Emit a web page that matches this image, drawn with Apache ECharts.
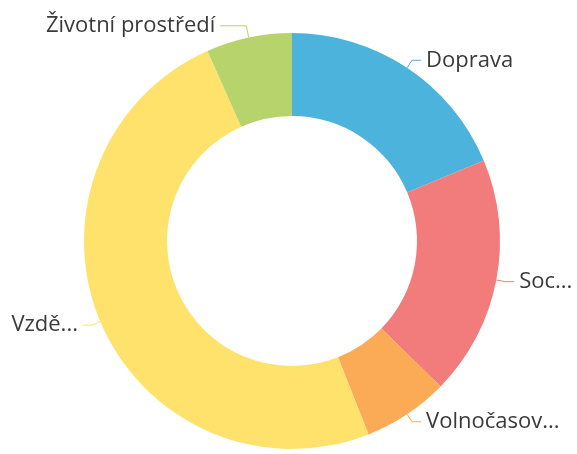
<!DOCTYPE html>
<html>
<head>
<meta charset="utf-8">
<script src="https://cdn.jsdelivr.net/npm/echarts@6/dist/echarts.min.js"></script>
<style>
    html, body { margin: 0; padding: 0; background: #fff; }
    #chart { width: 577px; height: 454px; }
</style>
</head>
<body>
<div id="chart"></div>
<script>
// oblasti a jejich hodnoty
var categories = ['Doprava', 'Sociální služby', 'Volnočasové aktivity', 'Vzdělávání', 'Životní prostředí'];
// texty štítků tak, jak jsou v obrázku (zkrácené)
var labelTexts = ['Doprava', 'Soc...', 'Volnočasov...', 'Vzdě...', 'Životní prostředí'];
var values = [14, 14, 5, 37, 5];
var colors = ['#4cb4dc', '#f27b7b', '#fbaa55', '#fee26c', '#b6d46b'];

function buildData() {
    var arr = [];
    for (var i = 0; i < categories.length; i++) {
        arr.push({ name: categories[i], value: values[i] });
    }
    // poslední štítek má v originále delší vodicí čáru
    arr[arr.length - 1].labelLine = { length: 12, length2: 26 };
    return arr;
}

var myChart = echarts.init(document.getElementById('chart'));
var option = {
    animation: false,
    color: colors,
    series: [{
        type: 'pie',
        left: 0,
        top: 0,
        right: -12,
        bottom: 0,
        center: [292, 241],
        radius: [125, 208],
        startAngle: 90,
        avoidLabelOverlap: true,
        label: {
            color: '#3a3a3a',
            fontSize: 22,
            fontFamily: '"Open Sans", "Noto Sans", sans-serif',
            formatter: function(p) {
                return labelTexts[p.dataIndex];
            }
        },
        labelLine: {
            length: 9,
            length2: 9,
            lineStyle: { width: 1 }
        },
        data: buildData()
    }]
};

myChart.setOption(option);
</script>
</body>
</html>
